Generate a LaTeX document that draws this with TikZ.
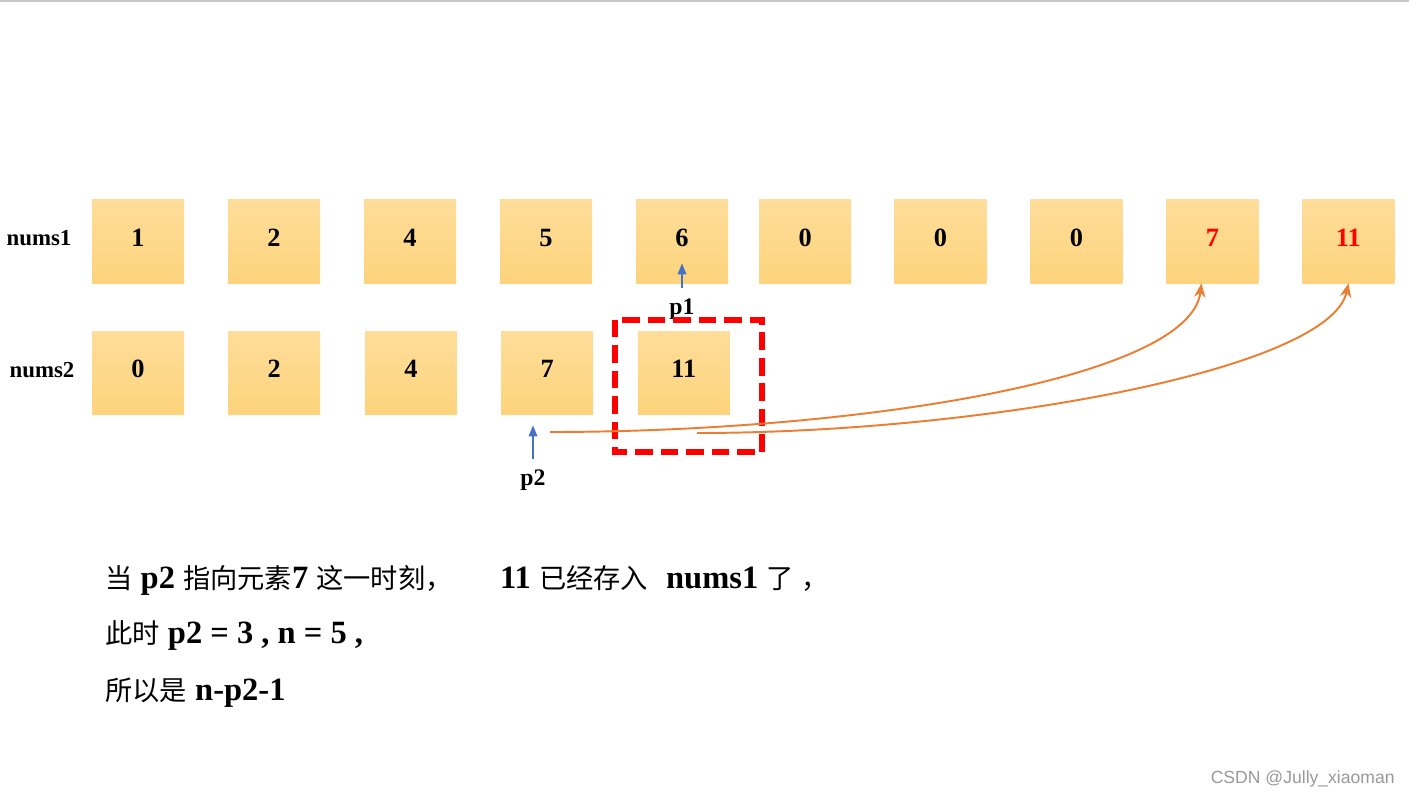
\documentclass[tikz,border=0pt]{standalone}
\usepackage{fontspec}
\setmainfont{Liberation Serif}
\newfontfamily\cjk{Noto Sans CJK SC}
\newfontfamily\markfont{Liberation Sans}
\usepackage{tikz}
\usetikzlibrary{arrows.meta,positioning}
\definecolor{celltop}{RGB}{255,221,154}
\definecolor{cellbot}{RGB}{253,212,124}
\definecolor{linkorange}{RGB}{237,125,49}
\definecolor{ptrblue}{RGB}{68,114,196}
\newcommand{\zh}[1]{{\cjk\mdseries\fontsize{15.5}{15.5}\selectfont #1}}

\begin{document}
\begin{tikzpicture}[
  font=\bfseries,
  cell/.style={
    minimum width=1.84cm, minimum height=1.66cm, inner sep=0pt,
    top color=celltop, bottom color=cellbot, text depth=0.16cm,
    font=\bfseries\fontsize{15}{15}\selectfont
  },
  newcell/.style={cell, text=red},
  rowname/.style={font=\bfseries\fontsize{13}{13}\selectfont},
  ptrname/.style={font=\bfseries\fontsize{13.5}{13.5}\selectfont, inner sep=0pt},
  ptr/.style={-{Triangle[length=2.2mm,width=1.7mm]}, draw=ptrblue, line width=1pt},
  link/.style={-{Stealth[length=2.8mm,width=2.3mm]}, draw=linkorange, line width=1.1pt},
  hilite/.style={draw=red, line width=3.4pt, dash pattern=on 10pt off 4.5pt},
  note/.style={anchor=base west, inner sep=0pt, font=\bfseries\fontsize{18.5}{18.5}\selectfont}
]
\useasboundingbox (0,0) rectangle (28.18,-15.94);
\draw[black!22, line width=1.2pt] (0,-0.02) -- (28.18,-0.02);

% nums1
\node[rowname] (r1) at (0.78,-4.76) {nums1};
\node[cell] (a1) at (2.76,-4.83) {1};
\node[cell, right=0.866cm of a1] (a2) {2};
\node[cell, right=0.866cm of a2] (a3) {4};
\node[cell, right=0.866cm of a3] (a4) {5};
\node[cell, right=0.866cm of a4] (a5) {6};
\node[cell, right=0.61cm of a5] (a6) {0};
\node[cell, right=0.85cm of a6] (a7) {0};
\node[cell, right=0.866cm of a7] (a8) {0};
\node[newcell, right=0.866cm of a8] (a9) {7};
\node[newcell, right=0.866cm of a9] (a10) {11};

% nums2
\node[rowname] (r2) at (0.84,-7.40) {nums2};
\node[cell] (b1) at (2.76,-7.45) {0};
\node[cell, right=0.87cm of b1] (b2) {2};
\node[cell, right=0.88cm of b2] (b3) {4};
\node[cell, right=0.87cm of b3] (b4) {7};
\node[cell, right=0.88cm of b4] (b5) {11};

% pointers
\node[ptrname, below=0.3cm of a5] (p1) {p1};
\node[ptrname] (p2) at (10.66,-9.60) {p2};
\coordinate[yshift=-0.22cm] (p2tip) at (p2.north |- b4.south);
\draw[ptr] ([yshift=0.2cm]p1.north) -- ([yshift=0.4cm]a5.south);
\draw[ptr] ([yshift=0.2cm]p2.north) -- (p2tip);

% 11 already moved
\draw[hilite] ([shift={(-0.45,0.22)}]b5.north west) rectangle ([shift={(0.64,-0.76)}]b5.south east);

\coordinate (from7) at (11.0,-8.64);
\coordinate (from11) at (13.94,-8.66);
\draw[link] (from7) .. controls (17.0,-8.64) and (23.8,-7.6) .. ([xshift=-0.22cm]a9.south);
\draw[link] (from11) .. controls (19.6,-8.66) and (26.6,-7.4) .. (a10.south);

% explanation
\node[note] (line1) at (2.1,-11.76) {\zh{当} p2 \zh{指向元素}7 \zh{这一时刻，}\hspace{0.95cm}11 \zh{已经存入} \hspace{0.2cm}nums1 \zh{了}\hspace{0.15cm}\zh{，}};
\node[note] (line2) at (2.1,-12.86) {\zh{此时} p2 = 3 , n = 5 ,};
\node[note] (line3) at (2.1,-14.0) {\zh{所以是} n-p2-1};

\node[anchor=base east, inner sep=0pt, text=black!40, font=\markfont\mdseries\fontsize{10}{10}\selectfont] (mark) at (27.9,-15.66) {CSDN @Jully\_xiaoman};
\end{tikzpicture}
\end{document}
